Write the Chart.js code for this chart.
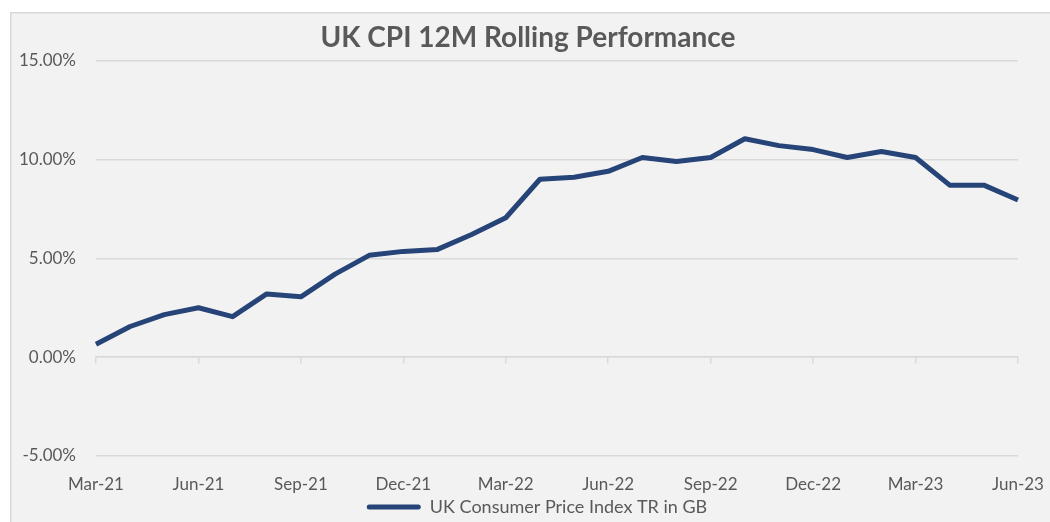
<!DOCTYPE html>
<html>
<head>
<meta charset="utf-8">
<script src="https://cdn.jsdelivr.net/npm/chart.js@4/dist/chart.umd.min.js"></script>
<style>
  html, body { margin: 0; padding: 0; background: #ffffff; }
  #chart { display: block; }
</style>
</head>
<body>
<canvas id="chart" width="1050" height="522"></canvas>
<script>
// months Mar-21 .. Jun-23
const months = [
    'Mar-21', 'Apr-21', 'May-21', 'Jun-21', 'Jul-21', 'Aug-21', 'Sep-21',
    'Oct-21', 'Nov-21', 'Dec-21', 'Jan-22', 'Feb-22', 'Mar-22', 'Apr-22',
    'May-22', 'Jun-22', 'Jul-22', 'Aug-22', 'Sep-22', 'Oct-22', 'Nov-22',
    'Dec-22', 'Jan-23', 'Feb-23', 'Mar-23', 'Apr-23', 'May-23', 'Jun-23'
];
const cpiValues = [
    0.65, 1.55, 2.15, 2.5, 2.05, 3.2, 3.05,
    4.2, 5.15, 5.35, 5.45, 6.2, 7.05, 9.0,
    9.1, 9.4, 10.1, 9.9, 10.1, 11.05, 10.7,
    10.5, 10.1, 10.4, 10.1, 8.7, 8.7, 7.95
];
const seriesName = 'UK Consumer Price Index TR in GB';
const yTicks = [-5, 0, 5, 10, 15];

const lineColor = '#264478';
const textColor = '#595959';
const gridColor = '#d9d9d9';
const fontFamily = 'Lato, "Open Sans", sans-serif';

const panelBackground = {
    id: 'panelBackground',
    beforeDraw(chart) {
        const ctx = chart.ctx;
        ctx.save();
        ctx.fillStyle = '#ffffff';
        ctx.fillRect(0, 0, chart.width, chart.height);
        ctx.fillStyle = '#f2f2f2';
        ctx.fillRect(10, 12, chart.width - 10, chart.height - 12);
        ctx.strokeStyle = gridColor;
        ctx.lineWidth = 1.5;
        ctx.strokeRect(10.75, 12.75, chart.width + 5, chart.height + 5);
        ctx.restore();
    }
};

// title and legend sit a bit right of the canvas centre in the original
const nudgeBoxes = {
    id: 'nudgeBoxes',
    afterLayout(chart) {
        chart.titleBlock.left += 14;
        chart.titleBlock.right += 14;
        chart.legend.left += 23;
        chart.legend.right += 23;
    }
};

new Chart(document.getElementById('chart'), {
    type: 'line',
    data: {
        labels: months,
        datasets: [{
            label: seriesName,
            data: cpiValues,
            borderColor: lineColor,
            backgroundColor: lineColor,
            borderWidth: 5,
            borderJoinStyle: 'round',
            pointRadius: 0,
            tension: 0,
            xAxisID: 'x',
            yAxisID: 'y'
        }]
    },
    options: {
        responsive: false,
        animation: false,
        layout: {
            padding: {left: 10, right: 32, top: 12, bottom: -4}
        },
        scales: {
            y: {
                min: -5,
                max: 15,
                afterBuildTicks(scale) {
                    scale.ticks = yTicks.map(v => ({value: v}));
                },
                afterFit(scale) {
                    scale.width = 86;
                },
                ticks: {
                    padding: 20,
                    color: textColor,
                    font: {family: fontFamily, size: 17},
                    callback: v => v.toFixed(2) + '%'
                },
                grid: {
                    color: gridColor,
                    lineWidth: 1.5,
                    drawTicks: false
                },
                border: {display: false}
            },
            x: {
                type: 'category',
                position: 'bottom',
                offset: false,
                grid: {display: false},
                border: {display: false},
                afterFit(scale) {
                    scale.height = 40;
                    scale.paddingLeft = 0;
                    scale.paddingRight = 0;
                },
                ticks: {
                    autoSkip: false,
                    maxRotation: 0,
                    padding: 10,
                    color: textColor,
                    font: {family: fontFamily, size: 17},
                    callback: (v, i) => (i % 3 === 0 ? months[i] : null)
                }
            },
            xZero: {
                type: 'category',
                labels: months,
                position: {y: 0},
                offset: false,
                ticks: {display: false},
                grid: {
                    drawOnChartArea: false,
                    drawTicks: true,
                    tickLength: 6,
                    lineWidth: 1.5,
                    color: ctx => (ctx.index % 3 === 0 ? gridColor : 'rgba(0,0,0,0)')
                },
                border: {display: true, color: gridColor, width: 1.5}
            }
        },
        plugins: {
            title: {
                display: true,
                text: 'UK CPI 12M Rolling Performance',
                color: textColor,
                font: {family: fontFamily, size: 28, weight: 'bold'},
                padding: {top: 9, bottom: 6}
            },
            legend: {
                position: 'bottom',
                labels: {
                    color: textColor,
                    font: {family: fontFamily, size: 18},
                    boxWidth: 54,
                    boxHeight: 5,
                    padding: 2,
                    generateLabels: chart => Chart.defaults.plugins.legend.labels.generateLabels(chart)
                        .map(item => ({...item, lineWidth: 0, fillStyle: lineColor, borderRadius: 2.5}))
                }
            },
            tooltip: {enabled: false}
        }
    },
    plugins: [panelBackground, nudgeBoxes]
});
</script>
</body>
</html>
